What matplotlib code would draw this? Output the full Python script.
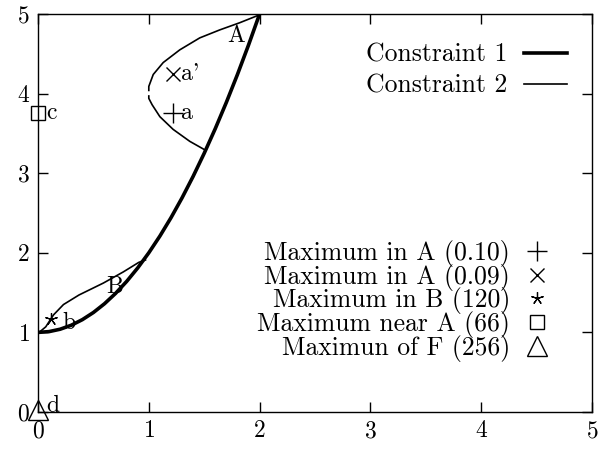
import numpy as np
import matplotlib.pyplot as plt

plt.rcParams['font.family'] = ['cmr10', 'DejaVu Serif']
plt.rcParams['axes.formatter.use_mathtext'] = True
plt.rcParams['mathtext.fontset'] = 'cm'

# Constraint 1 (thick)
c1_x = [0.0, 0.1, 0.2, 0.3, 0.4, 0.5, 0.6, 0.7, 0.8, 0.9, 1.0, 1.1, 1.2, 1.3, 1.4, 1.5,
        1.6, 1.7, 1.8, 1.9, 2.0]
c1_y = [1.0, 1.01, 1.04, 1.09, 1.16, 1.25, 1.36, 1.49, 1.64, 1.81, 2.0, 2.21, 2.44, 2.69,
        2.96, 3.25, 3.56, 3.89, 4.24, 4.61, 5.0]

# Constraint 2 (thin): lower loop, upper loop (two pieces, small gap near x=1)
c2_low_x = [0.01, 0.07, 0.14, 0.23, 0.37, 0.59, 0.77, 0.91, 0.97]
c2_low_y = [1.0, 1.07, 1.22, 1.35, 1.47, 1.62, 1.76, 1.88, 1.91]
c2_up1_x = [1.51, 1.37, 1.22, 1.10, 1.03, 1.0, 1.0]
c2_up1_y = [3.29, 3.40, 3.55, 3.71, 3.86, 3.94, 3.97]
c2_up2_x = [1.0, 1.0, 1.04, 1.13, 1.28, 1.46, 1.64, 1.82, 2.0]
c2_up2_y = [4.04, 4.09, 4.24, 4.39, 4.55, 4.70, 4.80, 4.89, 4.99]

# maximum points
pt_labels = ['Maximum in A (0.10)', 'Maximum in A (0.09)', 'Maximum in B (120)',
             'Maximum near A (66)', 'Maximun of F (256)']
pt_x = [1.22, 1.22, 0.12, 0.0, 0.0]
pt_y = [3.76, 4.25, 1.17, 3.76, 0.03]
pt_tags = ['a', "a'", 'b', 'c', 'd']

fig = plt.figure(figsize=(5.98, 4.57), dpi=100)
ax = fig.add_axes([38/598, 45/457, (592-38)/598, (412-14)/457])

l1, = ax.plot(c1_x, c1_y, color='black', lw=2.6, label='Constraint 1')
l2, = ax.plot(c2_low_x, c2_low_y, color='black', lw=1.2, label='Constraint 2')
ax.plot(c2_up1_x, c2_up1_y, color='black', lw=1.2)
ax.plot(c2_up2_x, c2_up2_y, color='black', lw=1.2)

styles = [dict(marker='+', ms=14, mew=1.0),
          dict(marker='x', ms=10, mew=1.0),
          dict(marker=(5, 2, 0), ms=9, mew=0.9),
          dict(marker='s', ms=10, mew=1.0, mfc='none'),
          dict(marker='^', ms=15, mew=1.0, mfc='none')]
handles = []
for x, y, lab, st in zip(pt_x, pt_y, pt_labels, styles):
    h, = ax.plot([x], [y], ls='none', color='black', label=lab, clip_on=False, **st)
    handles.append(h)

offs = [(0.07, 0.0), (0.07, 0.0), (0.1, -0.05), (0.07, 0.0), (0.07, 0.05)]
for x, y, t, (dx, dy) in zip(pt_x, pt_y, pt_tags, offs):
    ax.text(x + dx, y + dy, t, fontsize=17, va='center', ha='left')

ax.text(1.79, 4.72, 'A', fontsize=17, ha='center', va='center')
ax.text(0.69, 1.57, 'B', fontsize=17, ha='center', va='center')

leg1 = ax.legend([l1, l2], ['Constraint 1', 'Constraint 2'], loc='upper right',
                 bbox_to_anchor=(0.997, 0.985), frameon=False, markerfirst=False,
                 fontsize=18.5, handlelength=1.67, labelspacing=0.27, handletextpad=0.66)
ax.add_artist(leg1)
ax.legend(handles, pt_labels, loc='upper right', bbox_to_anchor=(0.973, 0.49),
          frameon=False, markerfirst=False, fontsize=18.5, handlelength=1.3,
          labelspacing=-0.13, handletextpad=0.4)

ax.set_xlim(0, 5)
ax.set_ylim(0, 5)
ax.set_xticks([0, 1, 2, 3, 4, 5])
ax.set_yticks([0, 1, 2, 3, 4, 5])
ax.tick_params(direction='in', top=True, right=True, length=7, width=1, labelsize=17, pad=6)
for s in ax.spines.values():
    s.set_linewidth(1.0)

fig.savefig('out.png', dpi=100)
